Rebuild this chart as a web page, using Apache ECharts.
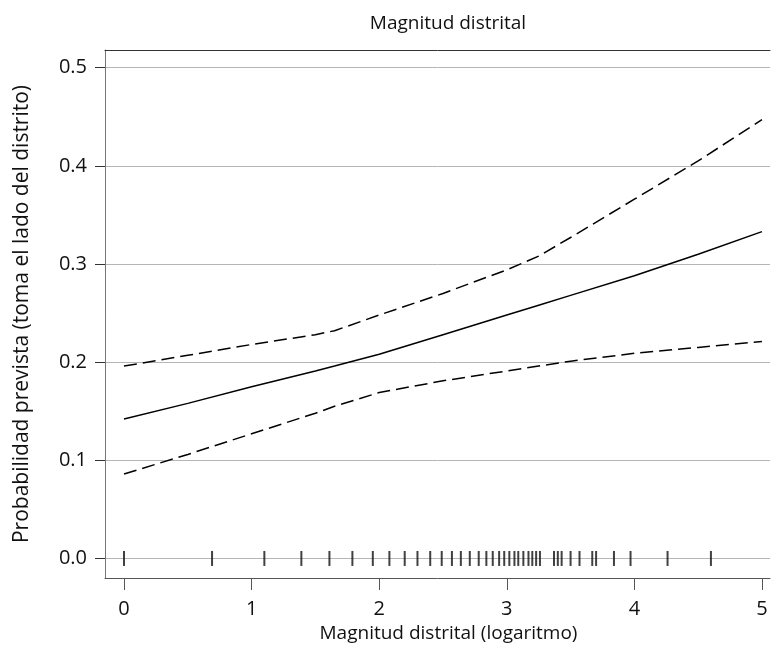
<!DOCTYPE html>
<html lang="es">
<head>
	<meta charset="UTF-8">
	<title>Magnitud distrital</title>
	<script src="https://cdn.jsdelivr.net/npm/echarts@6/dist/echarts.min.js"></script>
	<style>
		html, body { margin: 0; padding: 0; background: #fff; }
		#chart { width: 772px; height: 665px; }
	</style>
</head>
<body>
	<div id="chart"></div>
	<script>
		// valores
		var xValues = [0, 0.5, 1, 1.5, 1.65, 2, 2.5, 3, 3.25, 3.5, 4, 4.5, 5];
		var fitValues = [0.142, 0.158, 0.175, 0.191, 0.196, 0.208, 0.228, 0.248, 0.258, 0.268, 0.288, 0.310, 0.333];
		var upperValues = [0.196, 0.207, 0.218, 0.228, 0.232, 0.248, 0.270, 0.294, 0.308, 0.327, 0.366, 0.405, 0.447];
		var lowerValues = [0.086, 0.106, 0.127, 0.148, 0.155, 0.169, 0.181, 0.191, 0.196, 0.201, 0.209, 0.215, 0.221];
		// marcas de la alfombra (log de la magnitud)
		var rugValues = [0, 0.69, 1.10, 1.39, 1.61, 1.79, 1.95, 2.08, 2.20, 2.30, 2.40, 2.49, 2.57, 2.64,
			2.71, 2.78, 2.84, 2.89, 2.94, 2.98, 3.02, 3.06, 3.09, 3.13, 3.17, 3.20, 3.23, 3.26,
			3.37, 3.40, 3.43, 3.50, 3.57, 3.67, 3.70, 3.84, 3.97, 4.26, 4.60];
		var xTicks = [0, 1, 2, 3, 4, 5];
		var yTicks = [0, 0.1, 0.2, 0.3, 0.4, 0.5];

		function pairs(vals) {
			return xValues.map(function (x, i) { return [x, vals[i]]; });
		}

		var font = 'Open Sans';
		var xMin = -0.149, xMax = 5.063;
		var myChart = echarts.init(document.getElementById('chart'));
		myChart.setOption({
			animation: false,
			title: {
				text: 'Magnitud distrital',
				left: 443,
				top: 9,
				textAlign: 'center',
				textStyle: { fontFamily: font, fontSize: 19, fontWeight: 'normal', color: '#111' }
			},
			grid: { left: 105, top: 50, right: 2, bottom: 87 },
			xAxis: [{
				type: 'value',
				min: xMin,
				max: xMax,
				name: 'Magnitud distrital (logaritmo)',
				nameLocation: 'middle',
				nameGap: 36,
				nameTextStyle: { fontFamily: font, fontSize: 19, color: '#111', padding: [0, 0, 0, 22] },
				axisLine: { show: true, onZero: false, lineStyle: { color: '#555' } },
				axisTick: { show: true, length: 12, customValues: xTicks, lineStyle: { color: '#555' } },
				axisLabel: { customValues: xTicks, margin: 21, fontFamily: font, fontSize: 20, color: '#111' },
				splitLine: { show: false }
			}, {
				// borde superior del marco
				type: 'value', position: 'top', min: xMin, max: xMax,
				axisLine: { show: true, onZero: false, lineStyle: { color: '#333' } },
				axisTick: { show: false }, axisLabel: { show: false }, splitLine: { show: false }
			}],
			yAxis: {
				type: 'value',
				min: -0.0199,
				max: 0.518,
				name: 'Probabilidad prevista (toma el lado del distrito)',
				nameLocation: 'middle',
				nameGap: 72,
				nameTextStyle: { fontFamily: font, fontSize: 21, color: '#111' },
				axisLine: { show: true, onZero: false, lineStyle: { color: '#777' } },
				axisTick: { show: true, length: 10, customValues: yTicks, lineStyle: { color: '#333' } },
				axisLabel: {
					customValues: yTicks, margin: 18, fontFamily: font, fontSize: 20, color: '#111',
					formatter: function (v) { return v.toFixed(1); }
				},
				splitLine: { show: true, lineStyle: { color: '#b5b5b5', width: 1 } }
			},
			series: [
				{
					type: 'line', data: pairs(fitValues), symbol: 'none', silent: true,
					lineStyle: { color: '#000', width: 1.5 }
				},
				{
					type: 'line', data: pairs(upperValues), symbol: 'none', silent: true,
					lineStyle: { color: '#000', width: 1.5, type: [13, 6] }
				},
				{
					type: 'line', data: pairs(lowerValues), symbol: 'none', silent: true,
					lineStyle: { color: '#000', width: 1.5, type: [13, 6] }
				},
				{
					type: 'scatter', silent: true,
					data: rugValues.map(function (x) { return [x, 0]; }),
					symbol: 'rect', symbolSize: [2, 15],
					itemStyle: { color: '#111' }
				}
			]
		});
	</script>
</body>
</html>
